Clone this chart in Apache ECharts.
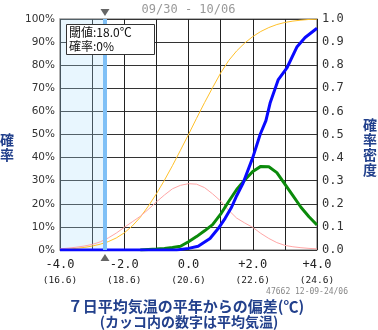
<!DOCTYPE html>
<html>
<head>
<meta charset="utf-8">
<script src="https://cdn.jsdelivr.net/npm/echarts@6/dist/echarts.min.js"></script>
<style>
  html, body { margin: 0; padding: 0; background: #fff; }
  #chart { width: 378px; height: 330px; }
</style>
</head>
<body>
<div id="chart"></div>
<script>
// Period and station stamp
const periodText = '09/30 - 10/06';
const stampText = '47662 12-09-24/06';

// Threshold and normal temperature (°C)
const thresholdTemp = 18.0;
const normalTemp = 20.6;
const thresholdProb = 0; // %

// X tick labels: anomaly and corresponding mean temperature
const xTickValues = [-4, -2, 0, 2, 4];
const xTickLabels = ['-4.0', '-2.0', '0.0', '+2.0', '+4.0'];
const xTickTemps = ['16.6', '18.6', '20.6', '22.6', '24.6'];

// Common x grid for the climatological curves and forecast density
const xs = [-4, -3.75, -3.5, -3.25, -3, -2.75, -2.5, -2.25, -2, -1.75, -1.5, -1.25, -1,
  -0.75, -0.5, -0.25, 0, 0.25, 0.5, 0.75, 1, 1.25, 1.5, 1.75, 2, 2.25, 2.5, 2.75, 3,
  3.25, 3.5, 3.75, 4];

// Climatological cumulative probability (%)
const climCdf = [0.2, 0.4, 0.7, 1.1, 1.7, 2.5, 3.6, 5.2, 7.4, 10.4, 14.2, 19.0, 24.3,
  30.2, 36.5, 43.2, 50.0, 57.0, 63.8, 70.3, 76.6, 82.0, 86.2, 89.6, 92.4, 94.6, 96.3,
  97.6, 98.5, 99.1, 99.5, 99.8, 99.9];

// Climatological probability density
const climPdf = [0.005, 0.008, 0.012, 0.017, 0.024, 0.035, 0.052, 0.073, 0.098, 0.122,
  0.146, 0.176, 0.208, 0.238, 0.265, 0.280, 0.287, 0.285, 0.270, 0.243, 0.212, 0.172,
  0.138, 0.117, 0.098, 0.072, 0.050, 0.032, 0.020, 0.014, 0.010, 0.007, 0.005];

// Forecast probability density (starts at -1.5)
const fcstPdfX = xs.slice(10);
const fcstPdf = [0.0, 0.002, 0.004, 0.007, 0.011, 0.016, 0.036, 0.058, 0.083, 0.110,
  0.155, 0.210, 0.262, 0.303, 0.340, 0.362, 0.360, 0.335, 0.285, 0.235, 0.185, 0.144,
  0.108];

// Forecast cumulative probability (%)
const fcstCdfX = [-4, -0.37, -0.37, 0, 0, 0.3, 0.67, 0.93, 1.14, 1.34, 1.5, 1.7, 2.0,
  2.23, 2.41, 2.54, 2.79, 3.07, 3.38, 3.63, 4.0];
const fcstCdf = [0, 0, 0.7, 0.7, 1.4, 1.6, 5.0, 9.4, 13.7, 18.5, 23.5, 29.0, 40.0,
  50.0, 56.0, 63.6, 73.6, 79.0, 88.0, 92.0, 96.0];

const thrAnom = Math.round((thresholdTemp - normalTemp) * 10) / 10;

const pairs = (xv, yv) => xv.map((x, i) => [x, yv[i]]);

const monoFont = '"DejaVu Sans Mono", monospace';
const cjkFont = '"Noto Sans CJK JP", sans-serif';
const navy = '#22408c';

const chart = echarts.init(document.getElementById('chart'), null, { renderer: 'canvas' });

const option = {
  animation: false,
  backgroundColor: '#fff',
  grid: {
    left: 60, right: 61, top: 19, bottom: 80,
    show: true, borderColor: '#999', borderWidth: 1.5, backgroundColor: 'transparent'
  },
  xAxis: {
    type: 'value', min: -4, max: 4, interval: 1,
    axisLine: { show: false }, axisTick: { show: false },
    splitLine: { show: true, lineStyle: { color: '#222', width: 1 } },
    axisLabel: {
      margin: 7,
      formatter: (v) => {
        const i = xTickValues.indexOf(v);
        if (i < 0) return '';
        return '{a|' + xTickLabels[i] + '}\n{b|(' + xTickTemps[i] + ')}';
      },
      rich: {
        a: { fontFamily: monoFont, fontSize: 12, color: '#222', lineHeight: 16, align: 'center' },
        b: { fontFamily: monoFont, fontSize: 9.5, color: '#222', lineHeight: 15, align: 'center' }
      }
    }
  },
  yAxis: [
    {
      type: 'value', min: 0, max: 100, interval: 10,
      axisLine: { show: false }, axisTick: { show: false },
      splitLine: { show: true, lineStyle: { color: '#333', width: 1 } },
      axisLabel: {
        margin: 5, formatter: (v) => v + '%',
        fontFamily: '"DejaVu Sans", sans-serif', fontSize: 10.5, color: '#333'
      }
    },
    {
      type: 'value', min: 0, max: 1, interval: 0.1,
      axisLine: { show: false }, axisTick: { show: false }, splitLine: { show: false },
      axisLabel: {
        margin: 5, formatter: (v) => v.toFixed(1),
        fontFamily: monoFont, fontSize: 12, color: '#333'
      }
    }
  ],
  series: [
    {
      name: 'climCdf', type: 'line', yAxisIndex: 0, showSymbol: false,
      data: pairs(xs, climCdf),
      lineStyle: { color: '#ffc02a', width: 1 }, itemStyle: { color: '#ffc02a' },
      markArea: {
        silent: true,
        itemStyle: { color: 'rgba(170,222,250,0.27)' },
        data: [[{ xAxis: -4 }, { xAxis: thrAnom }]]
      },
      markLine: {
        silent: true, symbol: 'none', label: { show: false },
        lineStyle: { color: '#7fc0f6', width: 4, type: 'solid' },
        data: [{ xAxis: thrAnom }]
      }
    },
    {
      name: 'climPdf', type: 'line', yAxisIndex: 1, showSymbol: false,
      data: pairs(xs, climPdf),
      lineStyle: { color: '#ffa6a6', width: 1 }, itemStyle: { color: '#ffa6a6' }
    },
    {
      name: 'fcstPdf', type: 'line', yAxisIndex: 1, showSymbol: false,
      data: pairs(fcstPdfX, fcstPdf),
      lineStyle: { color: '#0b8a0b', width: 3 }, itemStyle: { color: '#0b8a0b' }
    },
    {
      name: 'fcstCdf', type: 'line', yAxisIndex: 0, showSymbol: false,
      data: pairs(fcstCdfX, fcstCdf),
      lineStyle: { color: '#0a0aff', width: 3 }, itemStyle: { color: '#0a0aff' }
    }
  ]
};

chart.setOption(option);

// Threshold markers and annotation texts
const pTop = chart.convertToPixel({ xAxisIndex: 0, yAxisIndex: 0 }, [thrAnom, 100]);
const pBot = chart.convertToPixel({ xAxisIndex: 0, yAxisIndex: 0 }, [thrAnom, 0]);
const tx = pTop[0];

chart.setOption({
  graphic: [
    {
      type: 'polygon', z: 100,
      shape: { points: [[tx - 4.5, pTop[1] - 10], [tx + 4.5, pTop[1] - 10], [tx, pTop[1] - 3]] },
      style: { fill: '#666' }
    },
    {
      type: 'polygon', z: 100,
      shape: { points: [[tx - 4.5, pBot[1] + 11], [tx + 4.5, pBot[1] + 11], [tx, pBot[1] + 4]] },
      style: { fill: '#666' }
    },
    {
      type: 'rect', z: 100,
      shape: { x: 66.5, y: 24.5, width: 88, height: 30 },
      style: { fill: '#fff', stroke: '#333', lineWidth: 1 }
    },
    {
      type: 'text', z: 101, left: 69, top: 25,
      style: {
        text: '閾値:' + thresholdTemp.toFixed(1) + '℃\n確率:' + thresholdProb + '%',
        font: '12px ' + cjkFont, fill: '#111', lineHeight: 14
      }
    },
    {
      type: 'text', z: 100, x: 188.5, y: 10,
      style: {
        text: periodText, font: '12px ' + monoFont, fill: '#999',
        align: 'center', verticalAlign: 'middle'
      }
    },
    {
      type: 'text', z: 100, x: 348, y: 292,
      style: {
        text: stampText, font: '8px ' + monoFont, fill: '#888',
        align: 'right', verticalAlign: 'middle'
      }
    },
    {
      type: 'text', z: 100, x: 7, y: 147,
      style: {
        text: '確\n率', font: 'bold 14px ' + cjkFont, fill: navy,
        align: 'center', verticalAlign: 'middle', lineHeight: 15
      }
    },
    {
      type: 'text', z: 100, x: 370, y: 147,
      style: {
        text: '確\n率\n密\n度', font: 'bold 14px ' + cjkFont, fill: navy,
        align: 'center', verticalAlign: 'middle', lineHeight: 15
      }
    },
    {
      type: 'text', z: 100, x: 186, y: 306,
      style: {
        text: '７日平均気温の平年からの偏差(℃)', font: 'bold 15px ' + cjkFont, fill: navy,
        align: 'center', verticalAlign: 'middle'
      }
    },
    {
      type: 'text', z: 100, x: 189, y: 322,
      style: {
        text: '(カッコ内の数字は平均気温)', font: 'bold 14px ' + cjkFont, fill: navy,
        align: 'center', verticalAlign: 'middle'
      }
    }
  ]
});
</script>
</body>
</html>
